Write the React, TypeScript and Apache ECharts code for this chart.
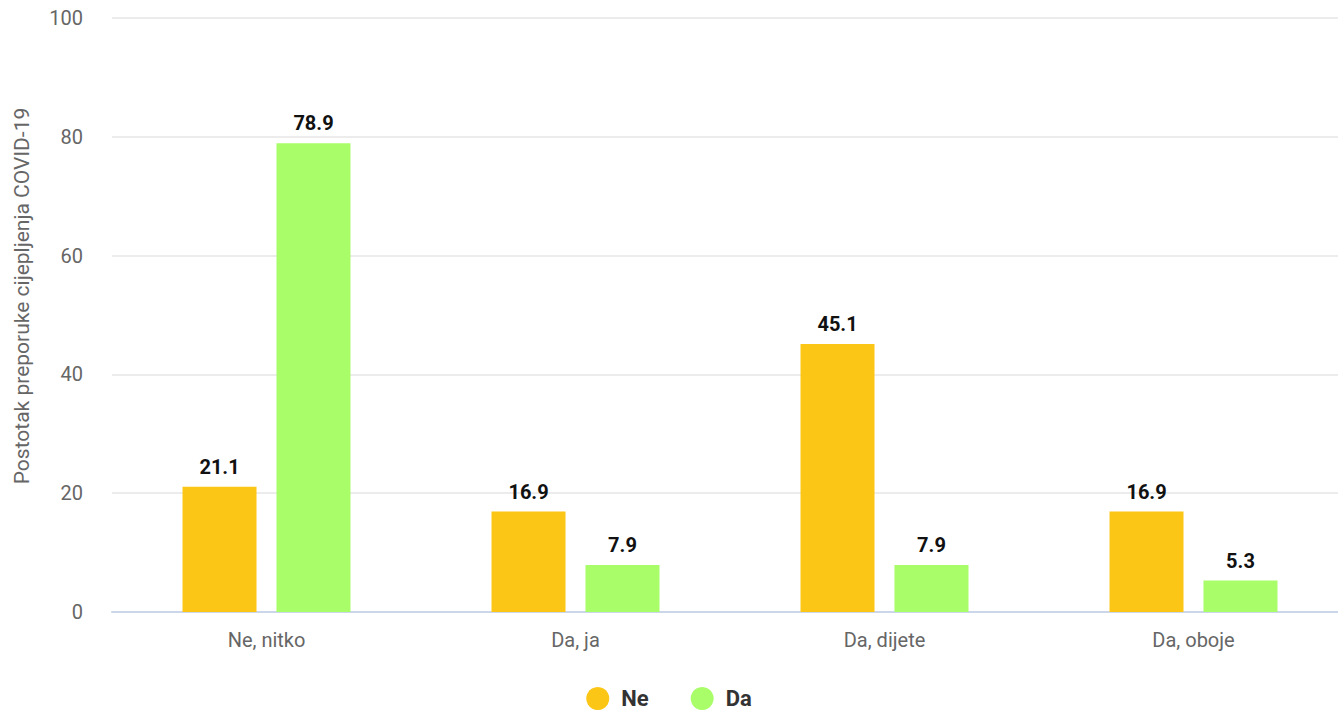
import React, { useEffect, useRef } from "react";
import * as echarts from "echarts";

const categories = ["Ne, nitko", "Da, ja", "Da, dijete", "Da, oboje"];
const seriesNe = [21.1, 16.9, 45.1, 16.9];
const seriesDa = [78.9, 7.9, 7.9, 5.3];
const yAxisName = "Postotak preporuke cijepljenja COVID-19";

export default function App() {
  const ref = useRef<HTMLDivElement>(null);
  useEffect(() => {
    if (!ref.current) return;
    const chart = echarts.init(ref.current, undefined, { renderer: "svg" });
    const labelStyle = {
      show: true,
      position: "top" as const,
      distance: 10,
      color: "#111",
      fontWeight: "bold" as const,
      fontSize: 20,
      fontFamily: "Roboto",
      formatter: (p: any) => p.value.toFixed(1),
    };
    chart.setOption({
      animation: false,
      textStyle: { fontFamily: "Roboto" },
      grid: { left: 112, right: -10, top: 18, bottom: 99, outerBoundsMode: "none" },
      legend: {
        top: 682,
        left: "center",
        icon: "circle",
        itemWidth: 23,
        itemHeight: 23,
        itemGap: 42,
        textStyle: {
          fontSize: 22,
          fontWeight: "bold",
          color: "#333",
          fontFamily: "Roboto",
          padding: [0, 0, 0, 7],
        },
        data: ["Ne", "Da"],
      },
      xAxis: {
        type: "category",
        data: categories,
        axisTick: { show: false },
        axisLine: { lineStyle: { color: "#ccd6eb", width: 2 } },
        axisLabel: { color: "#666", fontSize: 20, margin: 18, fontFamily: "Roboto" },
      },
      yAxis: {
        type: "value",
        min: 0,
        max: 100,
        interval: 20,
        name: yAxisName,
        nameLocation: "middle",
        nameGap: 80,
        nameTextStyle: {
          color: "#666",
          fontSize: 21,
          fontFamily: "Roboto",
          padding: [0, 0, 0, 38],
        },
        axisLabel: { color: "#666", fontSize: 20, margin: 29, fontFamily: "Roboto" },
        splitLine: { lineStyle: { color: "#e6e6e6", width: 1.5 } },
      },
      series: [
        {
          name: "Ne",
          type: "bar",
          data: seriesNe,
          barWidth: 74,
          barGap: "27%",
          itemStyle: { color: "#FBC616" },
          label: labelStyle,
        },
        {
          name: "Da",
          type: "bar",
          data: seriesDa,
          barWidth: 74,
          itemStyle: { color: "#A8FD68" },
          label: labelStyle,
        },
      ],
    });
    return () => chart.dispose();
  }, []);
  return (
    <div
      ref={ref}
      style={{ position: "fixed", left: 0, top: 0, width: 1338, height: 711, background: "#fff" }}
    />
  );
}
